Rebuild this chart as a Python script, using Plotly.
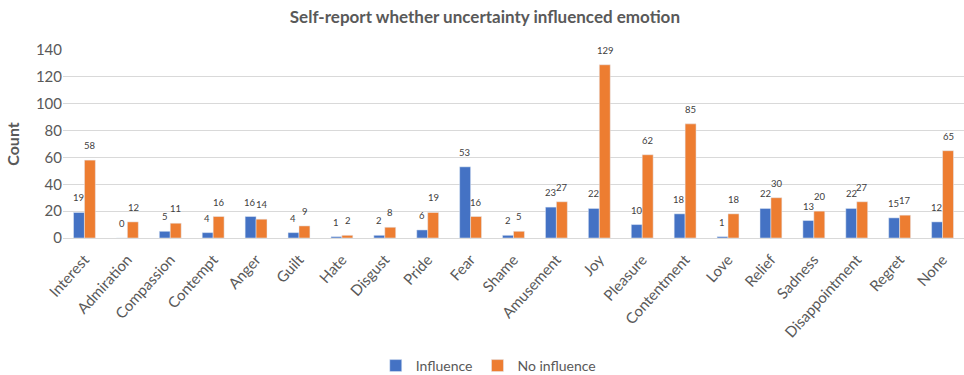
import plotly.graph_objects as go

categories = ["Interest", "Admiration", "Compassion", "Contempt", "Anger", "Guilt", "Hate",
              "Disgust", "Pride", "Fear", "Shame", "Amusement", "Joy", "Pleasure",
              "Contentment", "Love", "Relief", "Sadness", "Disappointment", "Regret", "None"]
influence = [19, 0, 5, 4, 16, 4, 1, 2, 6, 53, 2, 23, 22, 10, 18, 1, 22, 13, 22, 15, 12]
no_influence = [58, 12, 11, 16, 14, 9, 2, 8, 19, 16, 5, 27, 129, 62, 85, 18, 30, 20, 27, 17, 65]
y_ticks = [0, 20, 40, 60, 80, 100, 120, 140]

FONT = "Lato"
fig = go.Figure()
fig.add_trace(go.Bar(x=categories, y=influence, name="Influence", marker_color="#4472C4"))
fig.add_trace(go.Bar(x=categories, y=no_influence, name="No influence", marker_color="#ED7D31"))

# data labels, placed through the axes with a small offset above each bar
for series, shift in ((influence, -5.7), (no_influence, 5.7)):
    for cat, val in zip(categories, series):
        fig.add_annotation(x=cat, y=val, xref="x", yref="y", text=str(val), showarrow=False,
                           xshift=shift, yshift=7, yanchor="bottom", xanchor="center",
                           font=dict(size=9.5, color="#404040", family=FONT))

fig.update_layout(
    width=964, height=375,
    margin=dict(l=63, r=0, t=50, b=137),
    paper_bgcolor="white", plot_bgcolor="white",
    barmode="group", bargap=0.49, bargroupgap=0,
    font=dict(family=FONT, color="#595959"),
    title=dict(text="<b>Self-report whether uncertainty influenced emotion</b>",
               x=0.503, xanchor="center", y=0.955, yanchor="middle",
               font=dict(size=17, color="#595959", family=FONT)),
    legend=dict(orientation="h", xref="container", yref="container", x=0.507, y=0.024,
                xanchor="center", yanchor="middle", font=dict(size=14, color="#595959"),
                itemwidth=30, traceorder="normal"),
)
fig.update_xaxes(tickangle=-48, tickfont=dict(size=15, color="#595959"),
                 showline=True, linecolor="#d9d9d9", linewidth=1, ticks="",
                 ticklabelstandoff=6)
fig.update_yaxes(range=[0, 140], tickvals=y_ticks, tickfont=dict(size=15, color="#595959"),
                 gridcolor="#d9d9d9", zeroline=False, showline=False,
                 title=dict(text="<b>Count</b>", font=dict(size=16, color="#595959"), standoff=12))

fig.write_html("out.html")
